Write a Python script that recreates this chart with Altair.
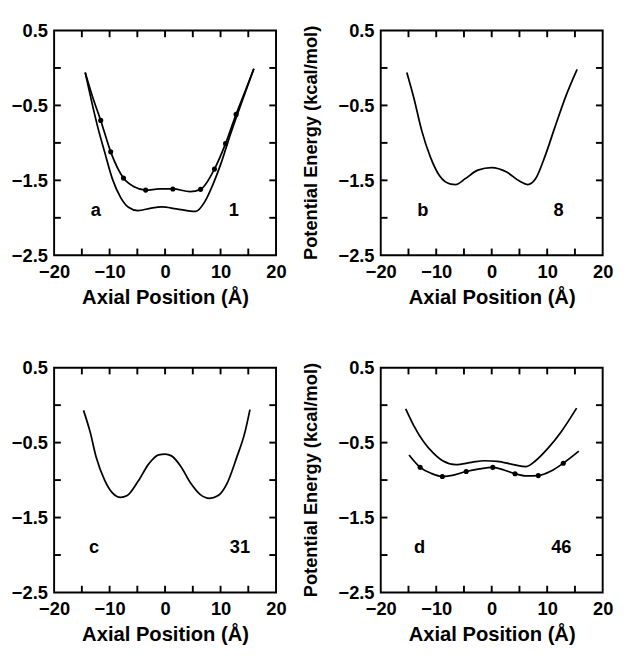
import altair as alt
import pandas as pd

# ---------------- data ----------------
a_up_x = [-14.4, -13.0, -11.6, -9.8, -7.5, -5.5, -3.5, -1.0, 1.4, 4.5, 6.4, 8.9, 10.9, 12.8, 14.5, 16.0]
a_up_y = [-0.06, -0.40, -0.70, -1.12, -1.47, -1.59, -1.63, -1.615, -1.615, -1.65, -1.62, -1.35, -1.01, -0.62, -0.30, -0.01]
a_lo_x = [-14.4, -13.2, -12.1, -10.9, -9.5, -8.0, -6.6, -4.9, -2.5, -0.6, 2.0, 5.5, 7.2, 8.6, 10.1, 11.8, 13.8, 16.0]
a_lo_y = [-0.06, -0.46, -0.80, -1.12, -1.48, -1.73, -1.86, -1.905, -1.87, -1.855, -1.88, -1.915, -1.78, -1.56, -1.27, -0.88, -0.46, -0.01]
a_dot_x = [-11.6, -9.8, -7.5, -3.5, 1.4, 6.4, 8.9, 10.9, 12.8]
a_dot_y = [-0.70, -1.12, -1.47, -1.63, -1.615, -1.62, -1.35, -1.01, -0.62]

b_x = [-15.3, -14.0, -12.6, -11.1, -9.4, -7.4, -6.5, -4.8, -2.5, 0.0, 2.7, 5.0, 6.5, 7.9, 9.6, 11.35, 13.4, 15.4]
b_y = [-0.06, -0.41, -0.84, -1.18, -1.44, -1.55, -1.556, -1.48, -1.364, -1.33, -1.39, -1.51, -1.556, -1.48, -1.18, -0.80, -0.37, -0.02]

c_x = [-14.7, -13.5, -12.4, -10.9, -9.5, -8.0, -6.9, -4.9, -2.9, -1.15, 0.0, 1.15, 2.9, 4.6, 6.3, 8.0, 9.5, 11.2, 12.9, 14.4, 15.3]
c_y = [-0.07, -0.36, -0.70, -1.00, -1.17, -1.23, -1.21, -1.02, -0.78, -0.664, -0.655, -0.677, -0.825, -1.04, -1.19, -1.243, -1.21, -1.04, -0.70, -0.36, -0.06]

d_up_x = [-15.5, -14.05, -12.3, -10.6, -8.85, -6.5, -3.6, -1.3, 1.0, 3.9, 6.2, 7.9, 10.2, 12.5, 15.3]
d_up_y = [-0.05, -0.273, -0.486, -0.635, -0.742, -0.793, -0.763, -0.742, -0.75, -0.793, -0.82, -0.742, -0.571, -0.358, -0.04]
d_lo_x = [-14.9, -12.9, -10.9, -8.9, -6.7, -4.6, -2.2, 0.2, 2.2, 4.2, 6.3, 8.4, 10.7, 12.9, 15.7]
d_lo_y = [-0.665, -0.83, -0.91, -0.952, -0.93, -0.885, -0.85, -0.83, -0.865, -0.915, -0.945, -0.94, -0.88, -0.775, -0.614]
d_dot_x = [-12.9, -8.9, -4.6, 0.2, 4.2, 8.4, 12.9]
d_dot_y = [-0.83, -0.952, -0.885, -0.83, -0.915, -0.94, -0.775]

panel_letters = ["a", "b", "c", "d"]
letter_x = [-12.5, -12.4, -12.8, -13.0]
panel_numbers = ["1", "8", "31", "46"]
number_x = [12.4, 12.05, 13.5, 12.55]
label_y = -1.97

x_domain = [-20, 20]
y_domain = [-2.5, 0.5]
x_label_ticks = [-20, -10, 0, 10, 20]
x_minor_ticks = [-15, -10, -5, 0, 5, 10, 15]
y_label_ticks = [0.5, -0.5, -1.5, -2.5]
y_minor_ticks = [0, -0.5, -1, -1.5, -2]

X_TITLE = "Axial Position (Å)"
Y_TITLE = "Potential Energy (kcal/mol)"
y_title_center = -1.0

# ---------------- layout / style ----------------
W, H = 231, 234
FONT = "Liberation Sans"
TICK_LEN_PX = 7
TW = 16  # width of the strip holding the vertical title
xs = alt.Scale(domain=x_domain, nice=False, zero=False)
ys = alt.Scale(domain=y_domain, nice=False, zero=False)
tlx = TICK_LEN_PX * (x_domain[1] - x_domain[0]) / W
tly = TICK_LEN_PX * (y_domain[1] - y_domain[0]) / H

LBL = dict(labelFontSize=19, labelFont=FONT, labelFontWeight="bold", labelColor="black")

x_axis = alt.Axis(values=x_label_ticks, format="d", orient="bottom", grid=False, domain=False, ticks=False,
                  labelPadding=8, labelFlush=False, title=X_TITLE, titleFont=FONT,
                  titleFontWeight="bold", titleColor="black", titleFontSize=21, titlePadding=6, **LBL)
y_axis = alt.Axis(values=y_label_ticks, format=".1f", orient="left", grid=False, domain=False, ticks=False,
                  labelPadding=7, labelFlush=False, title=None, **LBL)

# inward tick segments built from the tick arrays
tick_rows = []
for t in x_minor_ticks:
    tick_rows += [{"x": t, "y": y_domain[0], "g": f"xb{t}"}, {"x": t, "y": y_domain[0] + tly, "g": f"xb{t}"}]
    tick_rows += [{"x": t, "y": y_domain[1], "g": f"xt{t}"}, {"x": t, "y": y_domain[1] - tly, "g": f"xt{t}"}]
for v in y_minor_ticks:
    tick_rows += [{"x": x_domain[0], "y": v, "g": f"yl{v}"}, {"x": x_domain[0] + tlx, "y": v, "g": f"yl{v}"}]
    tick_rows += [{"x": x_domain[1], "y": v, "g": f"yr{v}"}, {"x": x_domain[1] - tlx, "y": v, "g": f"yr{v}"}]
tick_df = pd.DataFrame(tick_rows)


def panel(curves, dots, idx):
    rows = []
    for i, (xx, yy) in enumerate(curves):
        for x, y in zip(xx, yy):
            rows.append({"x": x, "y": y, "s": i})
    df = pd.DataFrame(rows)
    line = alt.Chart(df).mark_line(color="black", strokeWidth=1.8, interpolate="monotone").encode(
        x=alt.X("x:Q", scale=xs, axis=x_axis),
        y=alt.Y("y:Q", scale=ys, axis=y_axis),
        detail="s:N",
    )
    ticks = alt.Chart(tick_df).mark_line(color="black", strokeWidth=2).encode(
        x=alt.X("x:Q", scale=xs), y=alt.Y("y:Q", scale=ys), detail="g:N",
    )
    let_df = pd.DataFrame({"x": [letter_x[idx]], "y": [label_y], "t": [panel_letters[idx]]})
    num_df = pd.DataFrame({"x": [number_x[idx]], "y": [label_y], "t": [panel_numbers[idx]]})
    txt = dict(font=FONT, fontSize=19, fontWeight="bold", color="black", align="center", baseline="alphabetic")
    let = alt.Chart(let_df).mark_text(**txt).encode(
        x=alt.X("x:Q", scale=xs), y=alt.Y("y:Q", scale=ys), text="t:N")
    num = alt.Chart(num_df).mark_text(**txt).encode(
        x=alt.X("x:Q", scale=xs), y=alt.Y("y:Q", scale=ys), text="t:N")
    layers = [line, ticks, let, num]
    if dots is not None:
        ddf = pd.DataFrame({"x": dots[0], "y": dots[1]})
        pts = alt.Chart(ddf).mark_circle(color="black", size=28, opacity=1).encode(
            x=alt.X("x:Q", scale=xs), y=alt.Y("y:Q", scale=ys),
        )
        layers.append(pts)
    return alt.layer(*layers).properties(width=W, height=H)


def y_title_strip():
    tdf = pd.DataFrame({"y": [y_title_center], "t": [Y_TITLE]})
    return alt.Chart(tdf).mark_text(
        font=FONT, fontSize=19, fontWeight="bold", color="black", angle=270,
        align="center", baseline="middle",
    ).encode(
        x=alt.value(TW / 2),
        y=alt.Y("y:Q", scale=ys, axis=None),
        text="t:N",
    ).properties(width=TW, height=H, view=alt.ViewBackground(stroke="transparent"))


pa = panel([(a_up_x, a_up_y), (a_lo_x, a_lo_y)], (a_dot_x, a_dot_y), 0)
pb = panel([(b_x, b_y)], None, 1)
pc = panel([(c_x, c_y)], None, 2)
pd_ = panel([(d_up_x, d_up_y), (d_lo_x, d_lo_y)], (d_dot_x, d_dot_y), 3)

chart = alt.vconcat(
    alt.hconcat(pa, y_title_strip(), pb, spacing=14),
    alt.hconcat(pc, y_title_strip(), pd_, spacing=14),
    spacing=52,
).properties(
    padding={"left": 2, "top": 0, "right": 5, "bottom": 5}, background="white"
).configure_view(stroke="black", strokeWidth=2)

chart.save("out.html", embed_options={"renderer": "svg", "actions": False})
